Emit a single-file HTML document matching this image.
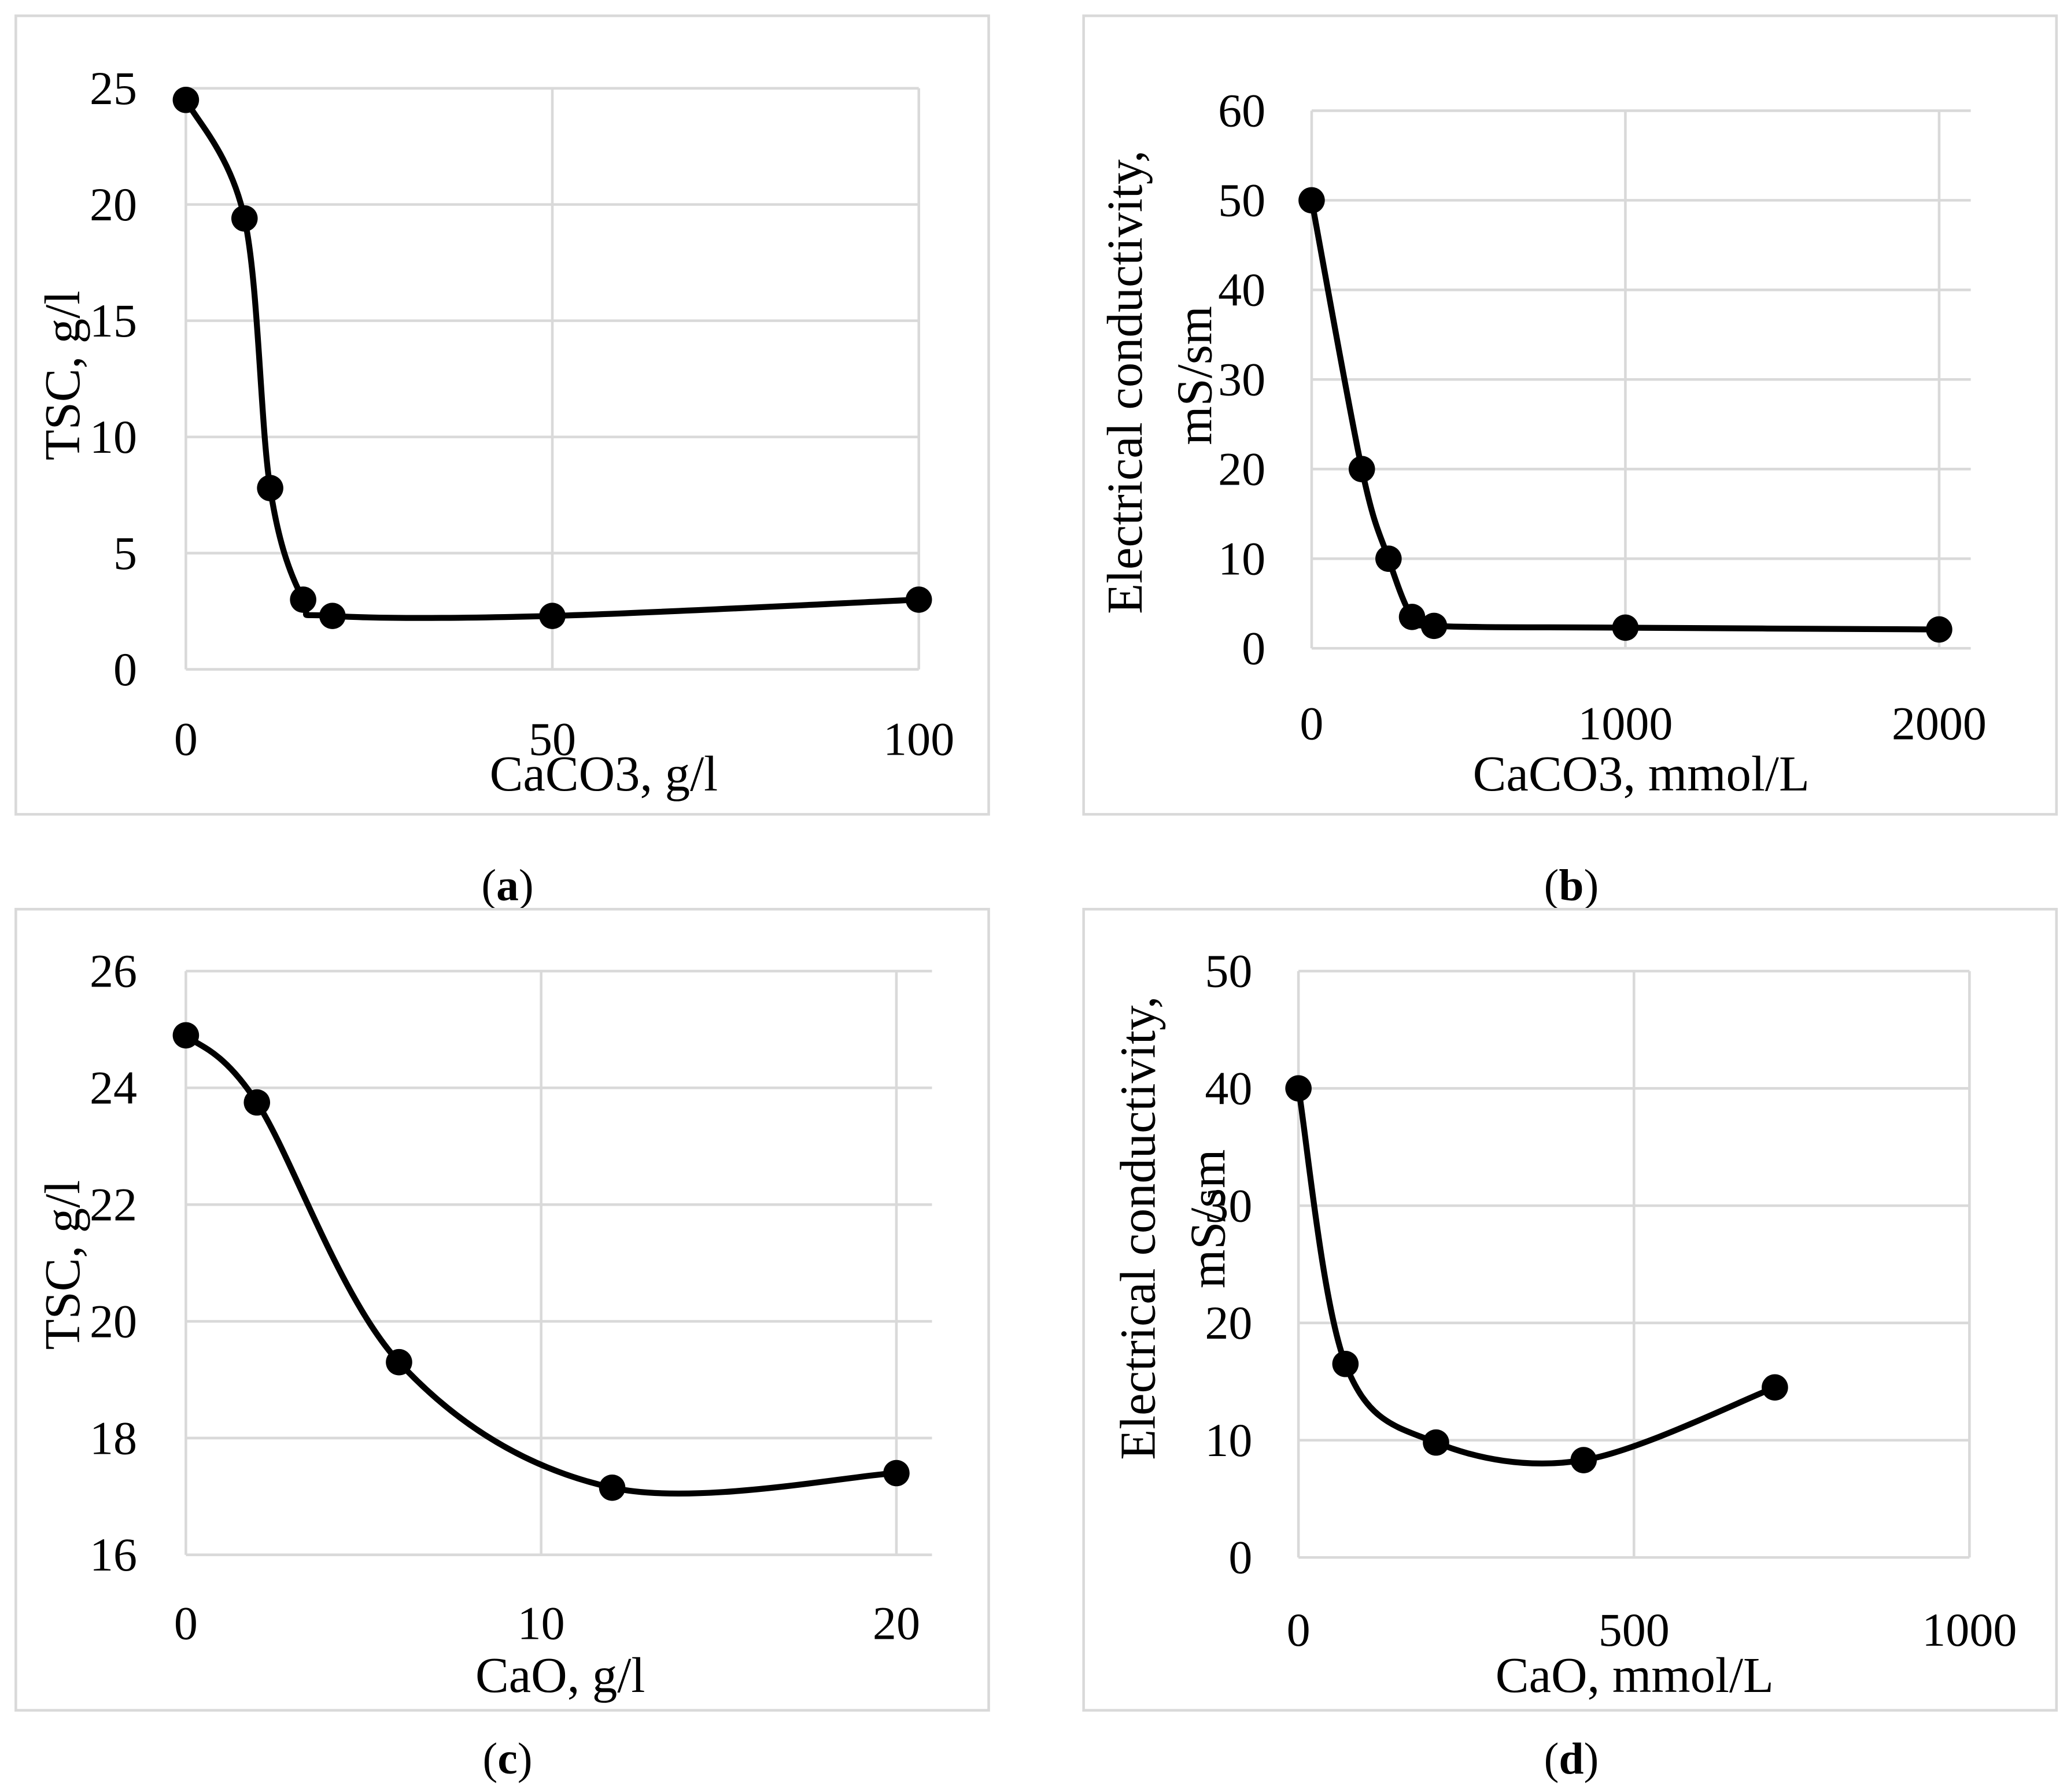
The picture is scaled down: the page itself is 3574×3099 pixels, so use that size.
<!DOCTYPE html>
<html><head><meta charset="utf-8">
<style>
html,body{margin:0;padding:0;background:#fff;}
svg{display:block;}
text{font-family:"Liberation Serif",serif;fill:#000;}
</style></head>
<body>
<svg id="fig" width="3574" height="3099" viewBox="0 0 1568 1360" preserveAspectRatio="none" xmlns="http://www.w3.org/2000/svg">
<rect x="0" y="0" width="1568" height="1360" fill="#fff"/>
</svg>
<script>
// Panel (a)
const aX = [0, 8, 11.5, 16, 20, 50, 100];
const aY = [24.5, 19.4, 7.8, 3, 2.3, 2.3, 3];
const aYTicks = [0, 5, 10, 15, 20, 25];
const aXTicks = [0, 50, 100];
// Panel (b)
const bX = [0, 160, 245, 320, 390, 1000, 2000];
const bY = [50, 20, 10, 3.5, 2.5, 2.3, 2.1];
const bYTicks = [0, 10, 20, 30, 40, 50, 60];
const bXTicks = [0, 1000, 2000];
// Panel (c)
const cX = [0, 2, 6, 12, 20];
const cY = [24.9, 23.75, 19.3, 17.15, 17.4];
const cYTicks = [16, 18, 20, 22, 24, 26];
const cXTicks = [0, 10, 20];
// Panel (d)
const dX = [0, 70, 205, 425, 710];
const dY = [40, 16.5, 9.8, 8.3, 14.5];
const dYTicks = [0, 10, 20, 30, 40, 50];
const dXTicks = [0, 500, 1000];

const NS = "http://www.w3.org/2000/svg";
const svg = document.getElementById('fig');
const FS = 36;
function mk(tag, attrs, parent) {
  const e = document.createElementNS(NS, tag);
  for (const k in attrs) e.setAttribute(k, attrs[k]);
  (parent || svg).appendChild(e);
  return e;
}

function panel(cfg) {
  const g = mk('g', {});
  
  
  const fr = mk('rect', {x: cfg.frame[0], y: cfg.frame[1], width: cfg.frame[2]-cfg.frame[0], height: cfg.frame[3]-cfg.frame[1], fill: 'none', stroke: '#d9d9d9', 'stroke-width': 2}, g);
  
  
  const sx = v => cfg.px0 + (v - cfg.xmin) / (cfg.xmax - cfg.xmin) * (cfg.px1 - cfg.px0);
  const sy = v => cfg.py0 + (v - cfg.ymin) / (cfg.ymax - cfg.ymin) * (cfg.py1 - cfg.py0);
  cfg.yTicks.forEach(t => {
    const l = mk('line', {x1: cfg.px0, x2: cfg.right, y1: sy(t), y2: sy(t), stroke: '#d9d9d9', 'stroke-width': 2}, g);
    
    
    const tx = mk('text', {x: cfg.ylabX, y: sy(t) + 12, 'text-anchor': 'end', 'font-size': FS}, g);
    tx.textContent = t;
    
    
  });
  cfg.xTicks.forEach(t => {
    const l = mk('line', {x1: sx(t), x2: sx(t), y1: cfg.top, y2: cfg.py0, stroke: '#d9d9d9', 'stroke-width': 2}, g);
    
    
    const tx = mk('text', {x: sx(t), y: cfg.xlabY, 'text-anchor': 'middle', 'font-size': FS}, g);
    tx.textContent = t;
    
    
  });
  const xt = mk('text', {x: cfg.xtitle[0], y: cfg.xtitle[1], 'text-anchor': 'middle', 'font-size': FS + 2}, g);
  xt.textContent = cfg.xtitleText;
  
  
  cfg.ytitles.forEach(yt => {
    const t = mk('text', {x: 0, y: 0, 'text-anchor': 'middle', 'font-size': FS + 2, transform: `translate(${yt[0]},${yt[1]}) rotate(-90)`}, g);
    t.textContent = yt[2];
    
    
  });
  const pts = cfg.xs.map((x, i) => [sx(x), sy(cfg.ys[i])]);
  let d = `M${pts[0][0]},${pts[0][1]}`;
  for (let i = 0; i < pts.length - 1; i++) {
    const p0 = pts[Math.max(0, i-1)], p1 = pts[i], p2 = pts[i+1], p3 = pts[Math.min(pts.length-1, i+2)];
    const c1 = [p1[0] + (p2[0]-p0[0])/6, p1[1] + (p2[1]-p0[1])/6];
    const c2 = [p2[0] - (p3[0]-p1[0])/6, p2[1] - (p3[1]-p1[1])/6];
    d += ` C${c1[0]},${c1[1]} ${c2[0]},${c2[1]} ${p2[0]},${p2[1]}`;
  }
  const path = mk('path', {d: d, fill: 'none', stroke: '#000', 'stroke-width': 4.5}, g);
  
  
  pts.forEach(p => {
    const c = mk('circle', {cx: p[0], cy: p[1], r: 10, fill: '#000'}, g);
    
    
  });
  const cap = mk('text', {x: cfg.cap[0], y: cfg.cap[1], 'text-anchor': 'middle', 'font-size': 34}, g);
  
  
  const s1 = mk('tspan', {}, cap); s1.textContent = '(';
  const s2 = mk('tspan', {'font-weight': 'bold'}, cap); s2.textContent = cfg.id.slice(-1);
  const s3 = mk('tspan', {}, cap); s3.textContent = ')';
}

panel({id: 'panel-a', frame: [12, 12, 750, 618], xs: aX, ys: aY, yTicks: aYTicks, xTicks: aXTicks,
  xmin: 0, xmax: 100, ymin: 0, ymax: 25, px0: 141, px1: 697, py0: 508, py1: 67, right: 697, top: 67,
  ylabX: 104, xlabY: 573, xtitle: [458, 600], xtitleText: 'CaCO3, g/l', ytitles: [[60, 285, 'TSC, g/l']], cap: [385, 683]});
panel({id: 'panel-b', frame: [822, 12, 1560, 618], xs: bX, ys: bY, yTicks: bYTicks, xTicks: bXTicks,
  xmin: 0, xmax: 2000, ymin: 0, ymax: 60, px0: 995, px1: 1471, py0: 492, py1: 84, right: 1495, top: 84,
  ylabX: 960, xlabY: 561, xtitle: [1245, 600], xtitleText: 'CaCO3, mmol/L',
  ytitles: [[866, 290, 'Electrical conductivity,'], [919, 285, 'mS/sm']], cap: [1192, 683]});
panel({id: 'panel-c', frame: [12, 690, 750, 1298], xs: cX, ys: cY, yTicks: cYTicks, xTicks: cXTicks,
  xmin: 0, xmax: 20, ymin: 16, ymax: 26, px0: 141, px1: 680, py0: 1180, py1: 737, right: 707, top: 737,
  ylabX: 104, xlabY: 1244, xtitle: [425, 1284], xtitleText: 'CaO, g/l', ytitles: [[60, 960, 'TSC, g/l']], cap: [385, 1346]});
panel({id: 'panel-d', frame: [822, 690, 1560, 1298], xs: dX, ys: dY, yTicks: dYTicks, xTicks: dXTicks,
  xmin: 0, xmax: 1000, ymin: 0, ymax: 50, px0: 985, px1: 1494, py0: 1182, py1: 737, right: 1494, top: 737,
  ylabX: 950, xlabY: 1249, xtitle: [1240, 1284],  xtitleText: 'CaO, mmol/L',
  ytitles: [[876, 932, 'Electrical conductivity,'], [929, 925, 'mS/sm']], cap: [1192, 1346]});
</script>
</body></html>
